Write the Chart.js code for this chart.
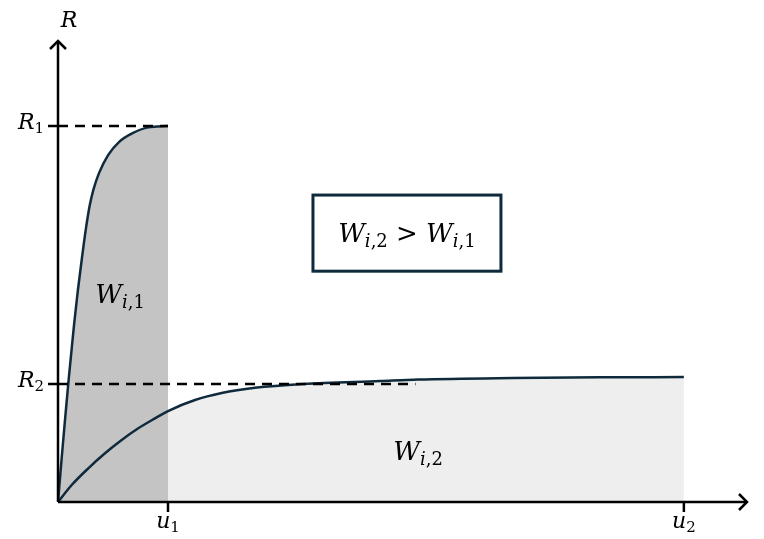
<!DOCTYPE html>
<html>
<head>
<meta charset="utf-8">
<script src="https://cdn.jsdelivr.net/npm/chart.js@4.4.0/dist/chart.umd.min.js"></script>
<style>
  html, body { margin:0; padding:0; background:#fff; }
  #wrap { width:764px; height:539px; }
</style>
</head>
<body>
<div id="wrap"><canvas id="c" width="764" height="539"></canvas></div>
<script>
// ── Data (u in units of u1, R in units of R1) ─────────────
const U1 = 1;
const U2 = 5.69;
const R1 = 1;
const R2 = 0.314;
const R2_DASH_END = 3.25;

const curve1X = [0, 0.0345, 0.0609, 0.0936, 0.1173, 0.1473, 0.1809, 0.2191, 0.2545, 0.2891, 0.3209, 0.3718, 0.4555, 0.5564, 0.6736, 0.8209, 1.0];
const curve1Y = [0, 0.1205, 0.2093, 0.3157, 0.3864, 0.4753, 0.5638, 0.6524, 0.7287, 0.7899, 0.8298, 0.8742, 0.9229, 0.9582, 0.9806, 0.9966, 1.0];

const curve2X = [0, 0.1245, 0.2755, 0.4273, 0.5791, 0.73, 0.8818, 1.0, 1.2455, 1.4882, 1.7909, 2.23, 2.9273, 3.2727, 4.1364, 4.9273, 5.69];
const curve2Y = [0, 0.0452, 0.0896, 0.1295, 0.1649, 0.196, 0.2226, 0.242, 0.2713, 0.2899, 0.3037, 0.3138, 0.3218, 0.3258, 0.3298, 0.3316, 0.3324];

const pts = (xs, ys) => xs.map((x, i) => ({ x, y: ys[i] }));

// ── Styles ────────────────────────────────────────────────
const INK    = '#0e2a3c';
const DARK   = '#c4c4c4';
const LIGHT  = '#eeeeee';
const SERIF  = "'DejaVu Serif', 'Liberation Serif', serif";

// draw a run like W_{i,1}: parts = [[text, italic, sub], ...]
function drawMath(ctx, parts, x, y, size, align) {
  const fontOf = p => (p[1] ? 'italic ' : '') + Math.round(p[2] ? size * 0.7 : size) + 'px ' + SERIF;
  let w = 0;
  parts.forEach(p => { ctx.font = fontOf(p); w += ctx.measureText(p[0]).width; });
  let cx = align === 'center' ? x - w / 2 : align === 'right' ? x - w : x;
  ctx.fillStyle = '#000';
  ctx.textBaseline = 'alphabetic';
  ctx.textAlign = 'left';
  parts.forEach(p => {
    ctx.font = fontOf(p);
    ctx.fillText(p[0], cx, p[2] ? y + size * 0.2 : y);
    cx += ctx.measureText(p[0]).width;
  });
}

const W1 = [['W', true, false], ['i', true, true], [',1', false, true]];
const W2 = [['W', true, false], ['i', true, true], [',2', false, true]];

// ── Axes, arrows, ticks, labels ──────────────────────────
const decor = {
  id: 'decor',
  afterDatasetsDraw(chart) {
    const { ctx, chartArea: a, scales: { x, y } } = chart;
    const ox = x.getPixelForValue(0), oy = y.getPixelForValue(0);
    ctx.save();
    ctx.strokeStyle = '#000';
    ctx.lineWidth = 2.5;
    ctx.lineCap = 'butt';
    // axes
    ctx.beginPath();
    ctx.moveTo(ox, oy); ctx.lineTo(ox, a.top + 1);
    ctx.moveTo(ox, oy); ctx.lineTo(a.right - 1, oy);
    ctx.stroke();
    // arrow heads
    ctx.lineJoin = 'miter';
    ctx.beginPath();
    ctx.moveTo(ox - 8, a.top + 9); ctx.lineTo(ox, a.top + 1); ctx.lineTo(ox + 8, a.top + 9);
    ctx.moveTo(a.right - 9, oy - 8); ctx.lineTo(a.right - 1, oy); ctx.lineTo(a.right - 9, oy + 8);
    ctx.stroke();
    // ticks
    const r1 = y.getPixelForValue(R1), r2 = y.getPixelForValue(R2);
    const u1 = x.getPixelForValue(U1), u2 = x.getPixelForValue(U2);
    ctx.beginPath();
    ctx.moveTo(ox - 10, r1); ctx.lineTo(ox, r1);
    ctx.moveTo(ox - 10, r2); ctx.lineTo(ox, r2);
    ctx.moveTo(u1, oy); ctx.lineTo(u1, oy + 10);
    ctx.moveTo(u2, oy); ctx.lineTo(u2, oy + 10);
    ctx.stroke();

    // labels
    drawMath(ctx, [['R', true, false]], ox + 11, a.top - 13, 22, 'center');
    drawMath(ctx, [['R', true, false], ['1', false, true]], ox - 14, r1 + 3, 22, 'right');
    drawMath(ctx, [['R', true, false], ['2', false, true]], ox - 14, r2 + 3, 22, 'right');
    drawMath(ctx, [['u', true, false], ['1', false, true]], u1, oy + 26, 22, 'center');
    drawMath(ctx, [['u', true, false], ['2', false, true]], u2, oy + 26, 22, 'center');

    // area labels
    drawMath(ctx, W1, x.getPixelForValue(0.564), y.getPixelForValue(0.529), 26, 'center');
    drawMath(ctx, W2, x.getPixelForValue(3.273), y.getPixelForValue(0.112), 26, 'center');

    // comparison box
    const bx0 = x.getPixelForValue(2.318), bx1 = x.getPixelForValue(4.027);
    const by0 = y.getPixelForValue(0.8165), by1 = y.getPixelForValue(0.614);
    ctx.strokeStyle = INK;
    ctx.lineWidth = 3;
    ctx.strokeRect(bx0, by0, bx1 - bx0, by1 - by0);
    drawMath(ctx, [...W2, [' > ', false, false], ...W1], (bx0 + bx1) / 2, (by0 + by1) / 2 + 9, 26, 'center');
    ctx.restore();
  }
};

new Chart(document.getElementById('c'), {
  type: 'line',
  data: {
    datasets: [
      { // R1 guide
        data: [{ x: 0, y: R1 }, { x: U1, y: R1 }],
        borderColor: '#000', borderWidth: 2.5, borderDash: [10, 7], pointRadius: 0, fill: false
      },
      { // R2 guide
        data: [{ x: 0, y: R2 }, { x: R2_DASH_END, y: R2 }],
        borderColor: '#000', borderWidth: 2.5, borderDash: [10, 7], pointRadius: 0, fill: false
      },
      { // curve 2 line (on top of dark fill)
        data: pts(curve2X, curve2Y),
        borderColor: INK, borderWidth: 2.5, pointRadius: 0, fill: false,
        cubicInterpolationMode: 'monotone'
      },
      { // curve 1 with W_{i,1} fill
        data: pts(curve1X, curve1Y),
        borderColor: INK, borderWidth: 2.5, pointRadius: 0,
        fill: 'origin', backgroundColor: DARK,
        cubicInterpolationMode: 'monotone'
      },
      { // curve 2 W_{i,2} fill
        data: pts(curve2X, curve2Y),
        borderWidth: 0, borderColor: 'rgba(0,0,0,0)', pointRadius: 0,
        fill: 'origin', backgroundColor: LIGHT,
        cubicInterpolationMode: 'monotone'
      }
    ]
  },
  options: {
    responsive: false,
    animation: false,
    layout: { padding: { left: 58, right: 16, top: 40, bottom: 37 } },
    plugins: { legend: { display: false }, tooltip: { enabled: false } },
    scales: {
      x: { type: 'linear', display: false, min: 0, max: 6.273 },
      y: { type: 'linear', display: false, min: 0, max: 1.229 }
    }
  },
  plugins: [decor]
});
</script>
</body>
</html>
